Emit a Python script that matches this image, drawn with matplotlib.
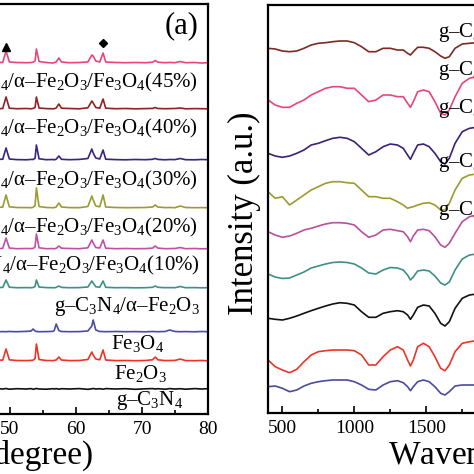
import matplotlib
matplotlib.use('Agg')
import matplotlib.pyplot as plt

plt.rcParams['font.family'] = ['Liberation Serif', 'DejaVu Serif']
plt.rcParams['mathtext.fontset'] = 'custom'
plt.rcParams['mathtext.rm'] = 'Liberation Serif'
plt.rcParams['mathtext.it'] = 'Liberation Serif:italic'

# ---------------- XRD data (left panel) ----------------
two_theta = [45, 46.5, 48, 48.9, 49.4, 49.9, 51, 52.5, 53.2, 53.5, 53.8, 54.0, 54.4,
             55.5, 56.5, 56.7, 57.0, 57.4, 57.8, 59, 60.5, 61.8, 62.4, 62.6, 63.0,
             63.6, 64.1, 64.5, 66, 67.5, 69, 70.5, 71.6, 72.0, 72.4, 73.5, 74.2, 75,
             75.8, 76.6, 78, 79, 80]

xrd_45 = [0.5, 0, 0.8, 0.5, 12, 1, 0.5, 0.3, 0.5, 0.8, 2, 14, 1.5,
          0.5, 0, 0.5, 1, 5, 1, 0.3, 0.5, 1, 8, 7, 2,
          1, 10, 1, 0.5, 0.3, 0.5, 0.3, 0.8, 2.5, 0.8, 0.3, 0.6, 0.3,
          1.5, 0.3, 0.5, 0, 0.3]
xrd_40 = [0.3, 0.6, 0.2, 0.5, 12, 0.8, 0.3, 0.5, 0.2, 0.6, 1.5, 12, 1,
          0.4, 0.2, 0.3, 1, 5, 0.8, 0.5, 0.2, 1.2, 8, 6, 1.5,
          0.8, 10, 0.8, 0.3, 0.5, 0.2, 0.4, 0.6, 1.5, 0.5, 0.3, 0.4, 0.5,
          1, 0.2, 0.4, 0.3, 0.2]
xrd_30 = [0.4, 0.2, 0.6, 0.8, 12, 1, 0.4, 0.2, 0.6, 0.5, 1.8, 15, 1.2,
          0.3, 0.5, 0.2, 0.8, 4, 0.7, 0.3, 0.6, 1.5, 11, 7, 2,
          1, 10, 0.8, 0.4, 0.2, 0.5, 0.3, 0.7, 1.5, 0.6, 0.2, 0.5, 0.4,
          1.5, 0.3, 0.2, 0.5, 0.3]
xrd_20 = [0.6, 0.3, 0.5, 0.9, 13, 1.2, 0.5, 0.4, 0.3, 0.7, 2.5, 20, 1.5,
          0.5, 0.3, 0.4, 1, 5, 1, 0.4, 0.3, 1.5, 12, 8, 2,
          1.2, 13, 1, 0.5, 0.3, 0.4, 0.5, 1, 3, 1, 0.4, 0.5, 0.3,
          2, 0.5, 0.3, 0.4, 0.2]
xrd_10 = [0.3, 0.5, 0.2, 0.7, 11, 1, 0.3, 0.5, 0.4, 0.6, 2, 15, 1.2,
          0.3, 0.4, 0.2, 0.7, 3, 0.8, 0.5, 0.3, 1.2, 9, 6, 1.5,
          1, 9, 0.8, 0.3, 0.5, 0.3, 0.4, 0.9, 3, 0.9, 0.3, 0.4, 0.5,
          1.5, 0.3, 0.5, 0.2, 0.4]
xrd_cn_fe2o3 = [0.4, 0.2, 0.5, 0.6, 8, 0.8, 0.3, 0.4, 0.3, 0.5, 1.5, 8, 1,
                0.4, 0.3, 0.2, 0.6, 2, 0.6, 0.3, 0.4, 1, 7, 5, 1.2,
                0.8, 7, 0.7, 0.3, 0.4, 0.2, 0.3, 0.7, 2, 0.7, 0.3, 0.4, 0.3,
                1.5, 0.3, 0.4, 0.2, 0.3]
xrd_fe3o4 = [0.3, 0.5, 0.2, 0.4, 0.3, 0.5, 0.3, 0.6, 1, 3, 1, 0.5, 0.3,
             0.4, 0.6, 1.5, 8, 1.5, 0.5, 0.3, 0.4, 1, 6, 12, 2,
             0.5, 0.4, 0.3, 0.5, 0.3, 0.4, 0.2, 0.5, 0.4, 0.3, 0.5, 2, 0.5,
             0.3, 0.4, 0.2, 0.5, 0.3]
xrd_fe2o3 = [0.5, 0.3, 0.8, 0.9, 12, 1.2, 0.5, 0.4, 0.6, 0.8, 2.5, 17, 1.5,
             0.5, 0.4, 0.6, 1, 4, 1, 0.4, 0.5, 1.5, 9, 6, 2,
             1.2, 11, 1, 0.4, 0.5, 0.3, 0.5, 1.2, 4, 1.2, 0.4, 0.5, 0.6,
             2, 0.4, 0.3, 0.5, 0.2]
xrd_cn = [0.3, -0.3, 0.4, 0, 0.5, -0.2, 0.3, 0, 0.4, -0.3, 0.2, 0.5, 0,
          -0.2, 0.3, 0, 0.4, -0.2, 0.3, 0, 0.4, -0.3, 0.2, 0.5, 0,
          0.3, -0.2, 0.4, 0, 0.3, -0.3, 0.2, 0.4, 0, 0.3, -0.2, 0.4, 0,
          0.3, -0.2, 0.4, 0, 0.3]

xrd_series = [xrd_45, xrd_40, xrd_30, xrd_20, xrd_10, xrd_cn_fe2o3, xrd_fe3o4, xrd_fe2o3, xrd_cn]
xrd_offsets = [351, 305, 254, 206, 165, 126, 82, 53, 25]
xrd_colors = ['#e8457e', '#8e2222', '#3b2480', '#9b9b30', '#c24fa6', '#3c9189', '#4b4ba3', '#ee3326', '#111111']

xrd_labels = ['g–C$_3$N$_4$/α–Fe$_2$O$_3$/Fe$_3$O$_4$(45%)',
              'g–C$_3$N$_4$/α–Fe$_2$O$_3$/Fe$_3$O$_4$(40%)',
              'g–C$_3$N$_4$/α–Fe$_2$O$_3$/Fe$_3$O$_4$(30%)',
              'g–C$_3$N$_4$/α–Fe$_2$O$_3$/Fe$_3$O$_4$(20%)',
              'g–C$_3$N$_4$/α–Fe$_2$O$_3$/Fe$_3$O$_4$(10%)',
              'g–C$_3$N$_4$/α–Fe$_2$O$_3$',
              'Fe$_3$O$_4$', 'Fe$_2$O$_3$', 'g–C$_3$N$_4$']
xrd_label_x = [78.4, 78.4, 78.4, 78.4, 78.8, 78.8, 73.3, 73.8, 76.2]
xrd_label_y = [332, 286, 234, 187, 149, 107, 70, 40, 14]

# ---------------- FTIR data (right panel) ----------------
wavenumber = [400, 450, 500, 550, 600, 650, 700, 750, 800, 850, 900, 950, 1000, 1050,
              1100, 1150, 1200, 1250, 1300, 1340, 1370, 1390, 1410, 1440, 1480, 1520,
              1560, 1600, 1630, 1660, 1700, 1750, 1800, 1850]

ir_top = [364.7, 364, 362, 361.3, 362, 364.7, 368, 369.7, 370.3, 371.3, 372, 372, 370.3, 366.3,
          361.3, 361.3, 364.7, 364.7, 363, 363, 359.7, 358, 361.3, 365.7, 365.7, 364.7,
          361.3, 357, 354.7, 356.3, 364.7, 369, 369.7, 370.3]
ir_pink = [313, 308, 305.7, 305.7, 309.7, 313, 318, 321.3, 324.7, 326.3, 326.3, 324.7, 324.7, 318,
           311.3, 313, 318, 318, 316.3, 316.3, 309.7, 305.7, 311.3, 321.3, 323, 321.3,
           311.3, 299.7, 298, 303, 316.3, 329.7, 334.7, 336.3]
ir_indigo = [259.7, 257, 255.7, 257, 259.7, 263, 268, 269.7, 272.3, 274.7, 275.7, 274.7, 271.3, 264.7,
             258, 261.3, 266.3, 269, 268, 264.7, 258, 253.7, 259.7, 268, 269, 266.3,
             259.7, 251.3, 249, 254.7, 269.7, 281.3, 284.7, 285.7]
ir_olive = [221.3, 214.7, 216.3, 208, 213, 218, 223, 226.3, 229.7, 231.3, 231.3, 230.3, 229.7, 223,
            216.3, 216.3, 214.7, 214.7, 211.3, 208, 204.7, 205.7, 206.3, 208, 209.7, 210.3,
            208, 203, 203, 209.7, 223, 234.7, 238, 239]
ir_orchid = [181.3, 178, 175.7, 177, 179.7, 183, 184.7, 187, 189, 190.3, 190.3, 189.7, 188, 181.3,
             175.7, 178, 183, 183.7, 182.3, 181.3, 176.3, 171.3, 177, 183, 183.7, 182.3,
             176.3, 168, 165.7, 169.7, 179.7, 191.3, 196.3, 198]
ir_teal = [139, 136, 134.5, 135, 138, 141, 145, 147, 149, 150.5, 151, 150.5, 149, 145,
           140, 139, 143, 145.5, 145, 143, 138, 133, 136, 142, 143, 142,
           137, 130, 128, 131, 143, 154, 158, 159]
ir_black = [94.7, 93.7, 93, 94.7, 97, 99.7, 102.3, 104.7, 107, 109, 110.3, 109.7, 108, 101.3,
            95.7, 95.7, 99.7, 101.3, 102.3, 101.3, 98, 93.7, 98, 105.7, 108, 107,
            99.7, 89.7, 87, 91.3, 104.7, 114.7, 118, 119]
ir_red = [53, 46.3, 43, 40.3, 43.7, 51.3, 58, 61.3, 62.3, 63, 63, 63, 62.3, 58,
          48, 48, 56.3, 63, 66.3, 63, 53, 47, 53, 66.3, 69.7, 66.3,
          56.3, 44.7, 42.3, 48, 61.3, 69.7, 71.3, 72.3]
ir_blue = [26.3, 27, 24.7, 21.3, 23, 27, 29.7, 31.3, 32.3, 33, 33, 33, 31.3, 28,
           23.7, 23, 28, 31.3, 32.3, 30.3, 26.3, 22.3, 26.3, 31.3, 33, 31.3,
           26.3, 19.7, 18, 21.3, 27, 28, 28, 28]

ir_series = [ir_top, ir_pink, ir_indigo, ir_olive, ir_orchid, ir_teal, ir_black, ir_red, ir_blue]
ir_colors = ['#7d2a22', '#e8457e', '#3a2275', '#9b9b30', '#b9509d', '#3f8f86', '#111111', '#ea3528', '#4a4a9e']

ir_labels = ['g–C$_3$N$_4$/α–Fe$_2$O$_3$/Fe$_3$O$_4$(45%)',
             'g–C$_3$N$_4$/α–Fe$_2$O$_3$/Fe$_3$O$_4$(40%)',
             'g–C$_3$N$_4$/α–Fe$_2$O$_3$/Fe$_3$O$_4$(30%)',
             'g–C$_3$N$_4$/α–Fe$_2$O$_3$/Fe$_3$O$_4$(20%)',
             'g–C$_3$N$_4$/α–Fe$_2$O$_3$/Fe$_3$O$_4$(10%)']
ir_label_y = [381, 343, 305, 251, 203]


W = 474.0
fig = plt.figure(figsize=(4.74, 4.74), dpi=100)

# left panel: only its right part is in frame
ax1 = fig.add_axes([-254 / W, 1 - 414 / W, 462 / W, 410 / W])
for vals, off, col in zip(xrd_series, xrd_offsets, xrd_colors):
    ax1.plot(two_theta, [v + off for v in vals], color=col, lw=1.2)
for lab, lx, ly in zip(xrd_labels, xrd_label_x, xrd_label_y):
    ax1.text(lx, ly, lab, ha='right', va='center', fontsize=15)
ax1.plot([49.4], [367], marker='^', color='k', ms=6)
ax1.plot([64.1], [371], marker='D', color='k', ms=4.5)
ax1.text(78.6, 388, '(a)', ha='right', va='center', fontsize=22)
ax1.set_xlim(10, 80)
ax1.set_ylim(0, 410)
ax1.set_xticks([50, 60, 70, 80])
ax1.set_xticks([45, 55, 65, 75], minor=True)
ax1.set_yticks([])
ax1.tick_params(axis='x', which='major', direction='in', length=5, width=1.2, labelsize=14, pad=5)
ax1.tick_params(axis='x', which='minor', direction='in', length=3, width=1.2)
for sp in ax1.spines.values():
    sp.set_linewidth(1.6)

# right panel: only its left part is in frame
ax2 = fig.add_axes([268 / W, 1 - 413 / W, 518 / W, 408 / W])
for vals, col in zip(ir_series, ir_colors):
    ax2.plot(wavenumber, vals, color=col, lw=1.2)
for lab, ly in zip(ir_labels, ir_label_y):
    ax2.text(1580, ly, lab, ha='left', va='center', fontsize=15)
ax2.set_xlim(400, 4000)
ax2.set_ylim(0, 408)
ax2.set_xticks([500, 1000, 1500])
ax2.set_xticks([750, 1250, 1750], minor=True)
ax2.set_yticks([])
ax2.tick_params(axis='x', which='major', direction='in', length=5, width=1.2, labelsize=14, pad=5)
ax2.tick_params(axis='x', which='minor', direction='in', length=3, width=1.2)
for sp in ax2.spines.values():
    sp.set_linewidth(1.6)

fig.text(93 / W, 1 - 464 / W, '2θ (degree)', ha='right', va='baseline', fontsize=24)
fig.text(388 / W, 1 - 465 / W, 'Wavenumber (cm$^{-1}$)', ha='left', va='baseline', fontsize=24)
fig.text(244 / W, 1 - 213 / W, 'Intensity (a.u.)', ha='center', va='center', rotation=90, fontsize=25)

fig.savefig('out.png', dpi=100)
